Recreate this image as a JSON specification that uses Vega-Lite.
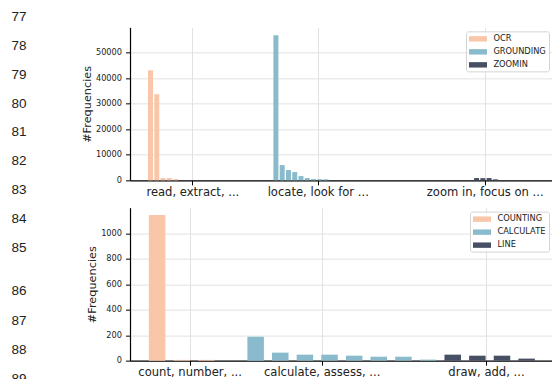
{
  "$schema": "https://vega.github.io/schema/vega-lite/v6.json",
  "background": "white",
  "padding": {"left": 0, "top": 9.35, "right": 0, "bottom": 0},
  "bounds": "flush",
  "spacing": 92,
  "datasets": {
    "lines": [
      {"line": 77}, {"line": 78}, {"line": 79}, {"line": 80}, {"line": 81}, {"line": 82}, {"line": 83},
      {"line": 84}, {"line": 85}, {"line": 86}, {"line": 87}, {"line": 88}, {"line": 89}
    ],
    "top": [
      {"idx": 0, "value": 43100, "series": "OCR"},
      {"idx": 1, "value": 33700, "series": "OCR"},
      {"idx": 2, "value": 900, "series": "OCR"},
      {"idx": 3, "value": 900, "series": "OCR"},
      {"idx": 4, "value": 500, "series": "OCR"},
      {"idx": 20, "value": 56800, "series": "GROUNDING"},
      {"idx": 21, "value": 5980, "series": "GROUNDING"},
      {"idx": 22, "value": 4030, "series": "GROUNDING"},
      {"idx": 23, "value": 3240, "series": "GROUNDING"},
      {"idx": 24, "value": 1680, "series": "GROUNDING"},
      {"idx": 25, "value": 900, "series": "GROUNDING"},
      {"idx": 26, "value": 500, "series": "GROUNDING"},
      {"idx": 27, "value": 450, "series": "GROUNDING"},
      {"idx": 28, "value": 400, "series": "GROUNDING"},
      {"idx": 52, "value": 900, "series": "ZOOMIN"},
      {"idx": 53, "value": 850, "series": "ZOOMIN"},
      {"idx": 54, "value": 900, "series": "ZOOMIN"},
      {"idx": 55, "value": 400, "series": "ZOOMIN"}
    ],
    "bottom": [
      {"idx": 0, "value": 1145, "series": "COUNTING"},
      {"idx": 1, "value": 6, "series": "COUNTING"},
      {"idx": 2, "value": 6, "series": "COUNTING"},
      {"idx": 4, "value": 188, "series": "CALCULATE"},
      {"idx": 5, "value": 63, "series": "CALCULATE"},
      {"idx": 6, "value": 47, "series": "CALCULATE"},
      {"idx": 7, "value": 47, "series": "CALCULATE"},
      {"idx": 8, "value": 39, "series": "CALCULATE"},
      {"idx": 9, "value": 31, "series": "CALCULATE"},
      {"idx": 10, "value": 31, "series": "CALCULATE"},
      {"idx": 11, "value": 8, "series": "CALCULATE"},
      {"idx": 12, "value": 47, "series": "LINE"},
      {"idx": 13, "value": 39, "series": "LINE"},
      {"idx": 14, "value": 39, "series": "LINE"},
      {"idx": 15, "value": 16, "series": "LINE"}
    ]
  },
  "hconcat": [
    {
      "data": {"name": "lines"},
      "width": 38,
      "height": 350,
      "mark": {"type": "text", "font": "Liberation Sans", "fontSize": 13.5, "color": "#222222", "align": "center", "baseline": "middle"},
      "encoding": {
        "y": {"field": "line", "type": "quantitative", "scale": {"domain": [77, 85, 86, 89], "range": [-10.65, 220.85, 263.85, 351.85]}, "axis": null},
        "text": {"field": "line", "type": "quantitative", "format": "d"}
      }
    },
    {
      "bounds": "flush",
      "spacing": 27.3,
      "vconcat": [
        {
          "data": {"name": "top"},
          "width": 422,
          "height": 153,
          "mark": {"type": "bar", "size": 5},
          "encoding": {
            "x": {"field": "idx", "type": "quantitative",
              "scale": {"domain": [-3.27, 64.03], "nice": false, "zero": false, "padding": 0},
              "axis": {"values": [6.67, 26.67, 53.3], "title": null,
                "labelExpr": "datum.value < 15 ? 'read, extract, ...' : datum.value < 40 ? 'locate, look for ...' : 'zoom in, focus on ...'"}},
            "y": {"field": "value", "type": "quantitative",
              "scale": {"domain": [0, 59900], "nice": false},
              "axis": {"values": [0, 10000, 20000, 30000, 40000, 50000], "format": "d", "title": "#Frequencies"}},
            "color": {"field": "series", "type": "nominal",
              "scale": {"domain": ["OCR", "GROUNDING", "ZOOMIN"], "range": ["#f9c6aa", "#89bbcd", "#474f64"]},
              "legend": {"title": null}}
          }
        },
        {
          "data": {"name": "bottom"},
          "width": 422,
          "height": 153,
          "mark": {"type": "bar", "size": 16.5},
          "encoding": {
            "x": {"field": "idx", "type": "quantitative",
              "scale": {"domain": [-1.1, 16.03], "nice": false, "zero": false, "padding": 0},
              "axis": {"values": [1.32, 6.68, 13.35], "title": null,
                "labelExpr": "datum.value < 4 ? 'count, number, ...' : datum.value < 10 ? 'calculate, assess, ...' : 'draw, add, ...'"}},
            "y": {"field": "value", "type": "quantitative",
              "scale": {"domain": [0, 1202], "nice": false},
              "axis": {"values": [0, 200, 400, 600, 800, 1000], "format": "d", "title": "#Frequencies"}},
            "color": {"field": "series", "type": "nominal",
              "scale": {"domain": ["COUNTING", "CALCULATE", "LINE"], "range": ["#f9c6aa", "#89bbcd", "#474f64"]},
              "legend": {"title": null}}
          }
        }
      ],
      "resolve": {"scale": {"color": "independent"}}
    }
  ],
  "config": {
    "view": {"stroke": null},
    "font": "DejaVu Sans",
    "axis": {
      "domainColor": "#000000", "domainWidth": 1.2,
      "tickColor": "#000000", "tickWidth": 1, "tickSize": 4.5,
      "labelFont": "DejaVu Sans", "labelColor": "#222222",
      "gridColor": "#e2e2e2", "gridWidth": 1, "grid": true,
      "titleFont": "DejaVu Sans", "titleFontWeight": "normal", "titleColor": "#222222",
      "labelFlush": false, "labelOverlap": false
    },
    "axisX": {"labelFontSize": 11.6, "labelPadding": 1.5, "labelAngle": 0},
    "axisY": {"labelFontSize": 8.2, "labelPadding": 4, "titleFontSize": 11.3, "titlePadding": 3},
    "legend": {
      "orient": "top-right", "offset": 3.5,
      "labelFont": "DejaVu Sans", "labelFontSize": 8.3, "labelColor": "#222222",
      "symbolType": "M-1,-0.6H3V0.6H-1Z", "symbolSize": 81, "symbolStrokeWidth": 0, "symbolOpacity": 1,
      "labelOffset": 15.4, "rowPadding": 4, "padding": 3,
      "fillColor": "rgba(255,255,255,0.8)", "strokeColor": "#d4d4d4", "cornerRadius": 2
    }
  }
}
